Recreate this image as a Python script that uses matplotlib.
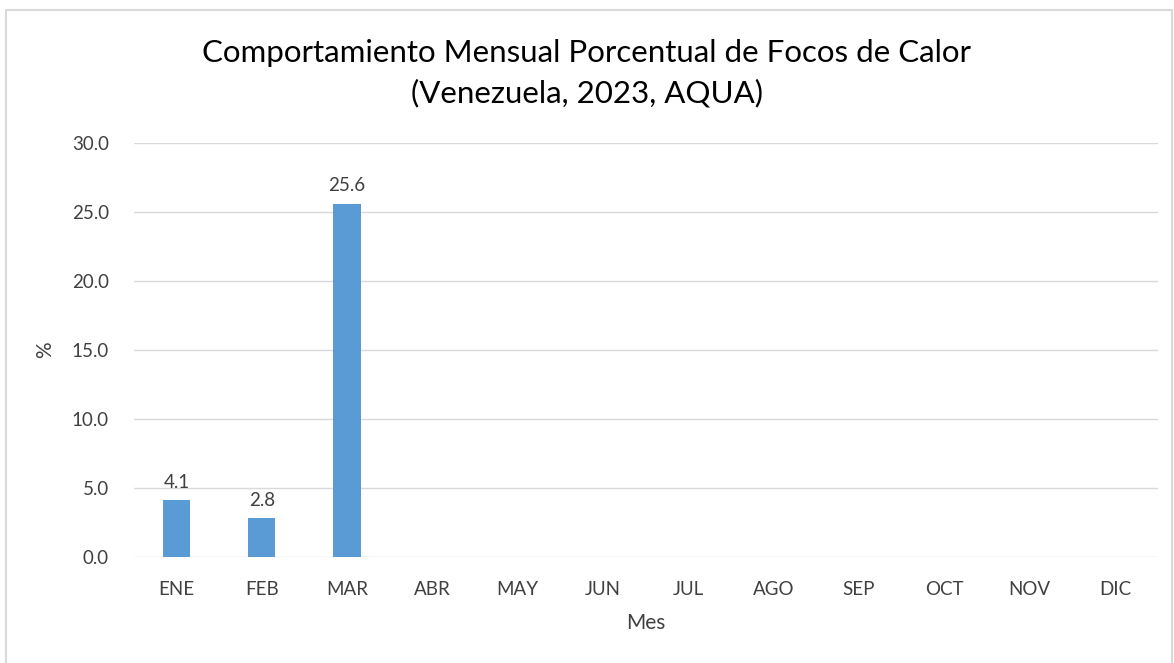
import matplotlib.pyplot as plt
import numpy as np
from matplotlib.patches import Rectangle

# Datos
meses = ['ENE', 'FEB', 'MAR', 'ABR', 'MAY', 'JUN', 'JUL', 'AGO', 'SEP', 'OCT', 'NOV', 'DIC']
porcentaje = [4.1, 2.8, 25.6, None, None, None, None, None, None, None, None, None]
yticks = [0, 5, 10, 15, 20, 25, 30]

plt.rcParams['font.family'] = ['Lato', 'DejaVu Sans']

fig = plt.figure(figsize=(11.74, 6.63), dpi=100)
ax = fig.add_axes([0.114, 0.160, 0.872, 0.624])

# Borde del gráfico
fig.patches.append(Rectangle((6 / 1174, -0.01), 1 - 8 / 1174, 1 - 10 / 663 + 0.01,
                             transform=fig.transFigure, fill=False,
                             edgecolor='#d9d9d9', linewidth=1.5))

x = np.arange(len(meses))
vals = [v if v is not None else 0 for v in porcentaje]
ax.bar(x, vals, width=0.32, color='#5b9bd5', zorder=3)

for xi, v in zip(x, porcentaje):
    if v is not None:
        ax.annotate(f'{v:.1f}', (xi, v), xytext=(0, 7), textcoords='offset points',
                    ha='center', va='bottom', fontsize=13.5, color='#404040')

ax.set_xlim(-0.5, len(meses) - 0.5)
ax.set_ylim(0, 30)
ax.set_yticks(yticks)
ax.set_yticklabels([f'{t:.1f}' for t in yticks])
ax.set_xticks(x)
ax.set_xticklabels(meses)
ax.tick_params(axis='both', length=0, labelsize=13.5, colors='#404040')
ax.tick_params(axis='x', pad=17)
ax.tick_params(axis='y', pad=18)
ax.grid(axis='y', color='#d9d9d9', linewidth=1, zorder=0)
for s in ax.spines.values():
    s.set_visible(False)

ax.set_xlabel('Mes', fontsize=15, color='#404040', labelpad=11)
ax.set_ylabel('%', fontsize=15, color='#404040', labelpad=12)

fig.text(0.5, 0.889, 'Comportamiento Mensual Porcentual de Focos de Calor\n(Venezuela, 2023, AQUA)',
         ha='center', va='center', fontsize=22.5, color='#000000', linespacing=1.5)

plt.savefig('out.png', dpi=100)
